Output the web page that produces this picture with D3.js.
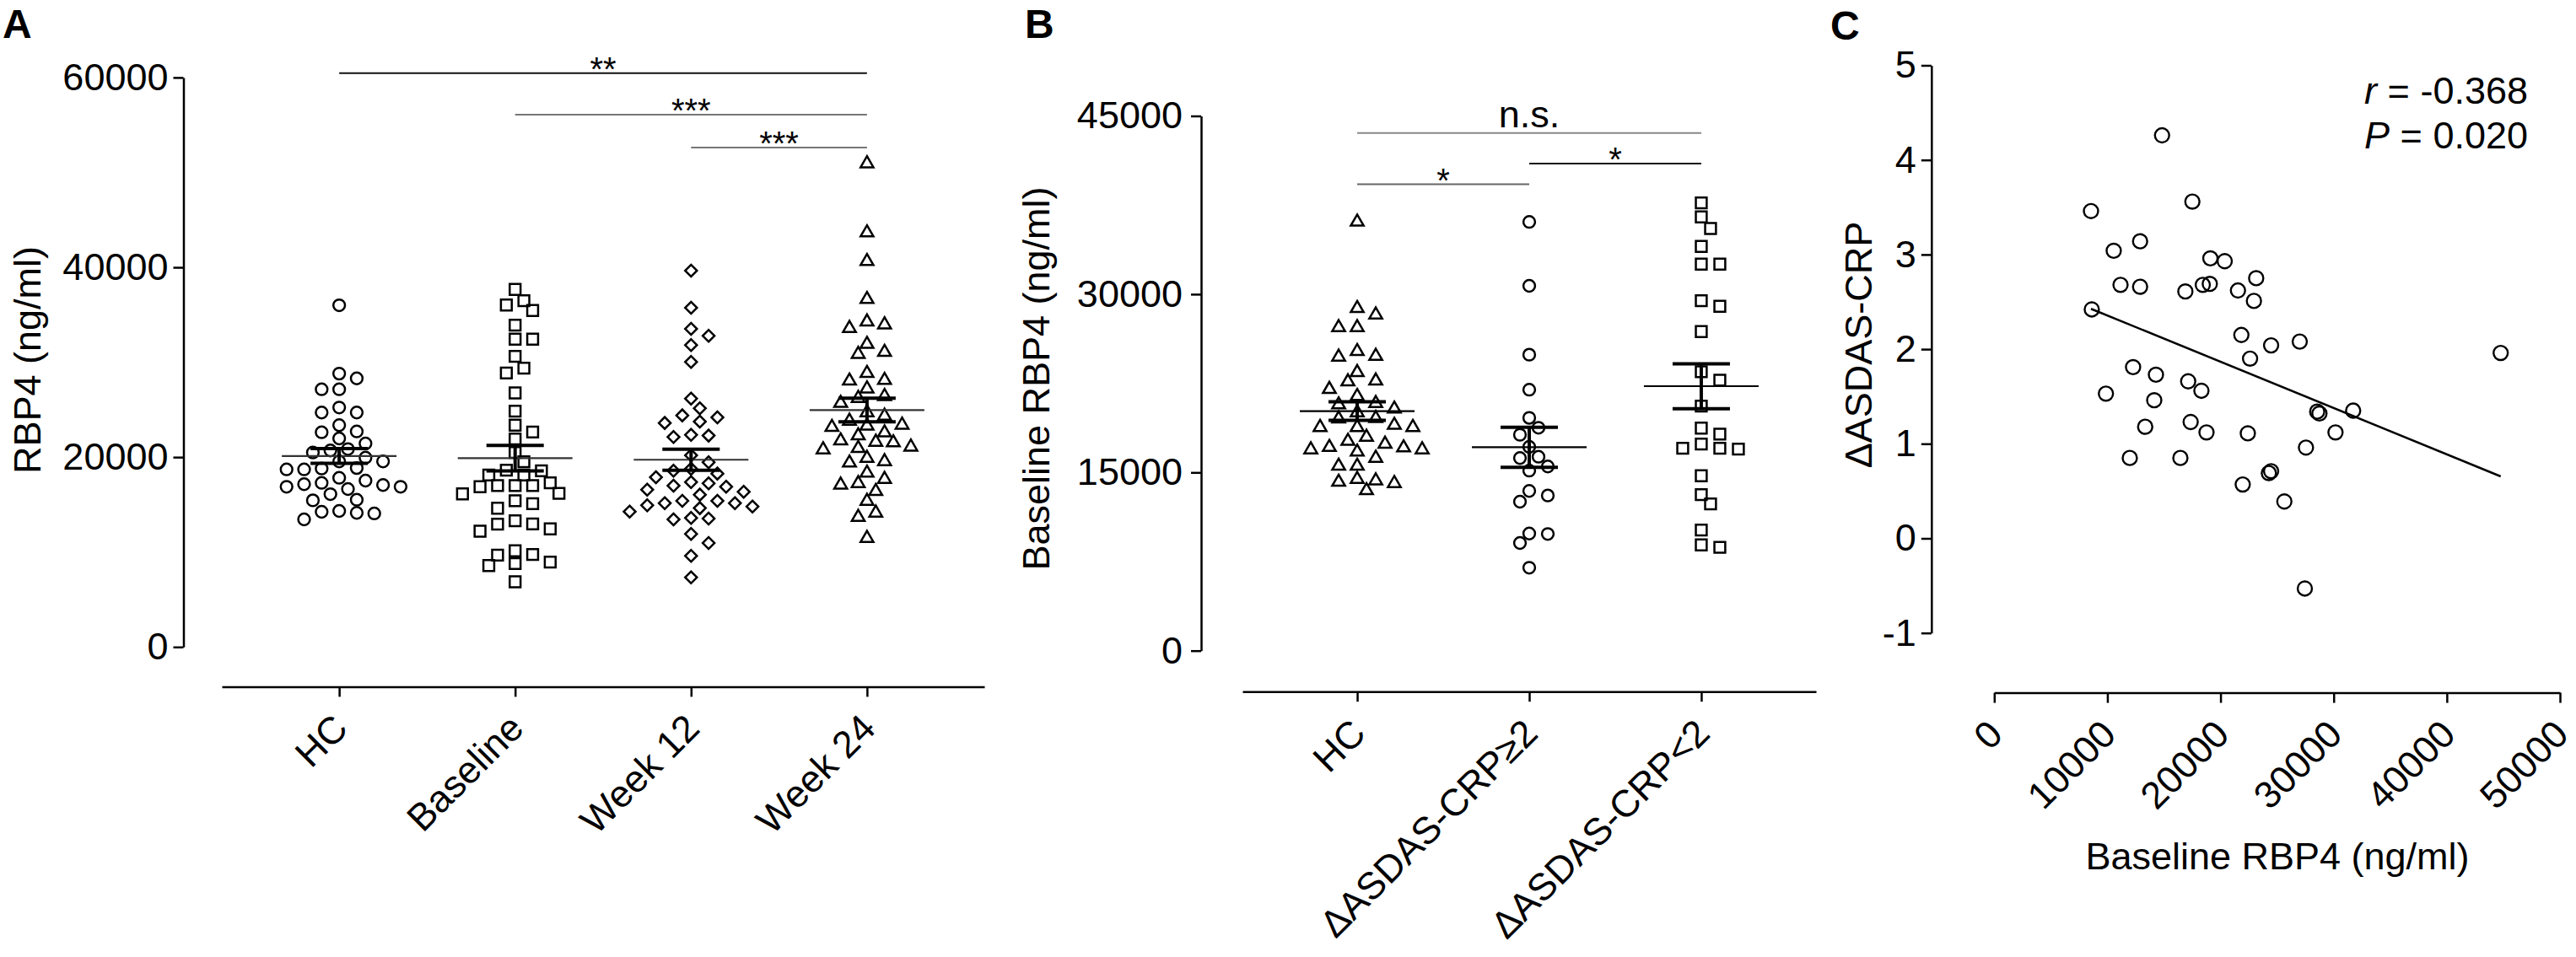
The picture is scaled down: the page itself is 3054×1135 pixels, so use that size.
<!DOCTYPE html>
<html>
<head>
<meta charset="utf-8">
<script src="https://cdn.jsdelivr.net/npm/d3@7"></script>
<style>
  body { margin: 0; background: #fff; }
  svg { display: block; }
</style>
</head>
<body>
<script>
// ── Data ──────────────────────────────────────────────────────────────────
// Panel A: RBP4 (ng/ml) per group
const groupsA = ["HC", "Baseline", "Week 12", "Week 24"];
const hcA = [36000, 28800, 28300, 27150, 27150, 25230, 24700, 24700, 23370, 22620,
  22710, 21970, 21440, 20850, 20490, 20700, 19950, 19550, 19550, 18800, 18710, 18710,
  18850, 17820, 17530, 17150, 16880, 16640, 16880, 17060, 17290, 16100, 15510, 15450,
  14330, 14130, 13440, 14070, 14240];
const baselineA = [37670, 36480, 36030, 35450, 33900, 32430, 32430, 30620, 29370, 28870,
  26770, 24840, 23370, 22650, 21910, 20490, 19510, 18620, 18560, 18120, 18120, 17290,
  17000, 16880, 17000, 17000, 16130, 16190, 15400, 15100, 14620, 13290, 12940, 12200,
  12440, 12970, 9740, 8940, 8790, 9680, 10130, 8580, 6870];
const week12A = [39650, 35740, 33520, 32780, 31800, 30030, 26170, 25140, 24190, 24400,
  23600, 23750, 22270, 22120, 22350, 20190, 19460, 18770, 18570, 18270, 17880, 17230,
  16880, 16350, 16580, 17000, 17380, 16050, 15400, 15160, 14920, 14630, 14270, 14800,
  15160, 15400, 13530, 13440, 13590, 11900, 10960, 9600, 7330];
const week24A = [50930, 43650, 40630, 36630, 33960, 33580, 34260, 31900, 30850, 31060,
  28840, 28100, 28040, 27210, 26410, 26210, 25680, 24700, 24340, 23810, 23300, 23150,
  23390, 22570, 22270, 21590, 21080, 20790, 20930, 21530, 21730, 19900, 19400, 19540,
  18330, 17680, 17230, 17080, 16400, 15370, 14130, 13680, 11460];
const ticksA = [0, 20000, 40000, 60000];
const sigA = [
  { from: "HC", to: "Week 24", level: 60450, label: "**" },
  { from: "Baseline", to: "Week 24", level: 56080, label: "***" },
  { from: "Week 12", to: "Week 24", level: 52620, label: "***" },
];

// Panel B: baseline RBP4 by response group
const groupsB = ["HC", "ΔASDAS-CRP≥2", "ΔASDAS-CRP<2"];
const hcB = [36080, 28810, 28270, 27200, 27200, 25190, 24720, 24790, 23420, 22710,
  22640, 22000, 21410, 20820, 20700, 20350, 20040, 19560, 19520, 18980, 18800, 18800,
  18800, 17980, 17630, 17390, 17080, 17120, 16920, 16730, 16920, 16210, 15540, 15540,
  14430, 14190, 13480, 14080, 14310];
const respondersB = [36080, 30700, 24910, 21960, 19590, 18760, 18170, 17150, 16320,
  16210, 15500, 15150, 13440, 12540, 13060, 9820, 9060, 9860, 6980];
const nonRespondersB = [37680, 36500, 35530, 34020, 32530, 32530, 29450, 28980, 26850,
  23470, 22760, 20580, 18730, 18220, 17030, 16960, 17030, 17390, 14720, 13130, 12350,
  10150, 8700, 8900];
const ticksB = [0, 15000, 30000, 45000];
const sigB = [
  { from: "HC", to: "ΔASDAS-CRP<2", level: 43560, label: "n.s." },
  { from: "HC", to: "ΔASDAS-CRP≥2", level: 39250, label: "*" },
  { from: "ΔASDAS-CRP≥2", to: "ΔASDAS-CRP<2", level: 40990, label: "*" },
];

// Panel C: baseline RBP4 vs ΔASDAS-CRP
const rbp4C = [14830, 17510, 8550, 12890, 10560, 19100, 20370, 23150, 11160, 12890,
  16890, 18430, 19050, 21540, 22950, 8620, 21840, 24470, 22610, 12270, 14290, 17140,
  18310, 9870, 14140, 13340, 17360, 18760, 22410, 11980, 16450, 24270, 24470, 21960,
  25640, 27000, 44760, 28540, 28740, 31720, 30160, 27550, 27450];
const deltaC = [4.26, 3.56, 3.46, 3.14, 3.04, 2.96, 2.93, 2.75, 2.68, 2.66,
  2.61, 2.68, 2.69, 2.62, 2.51, 2.42, 2.15, 2.04, 1.90, 1.81, 1.73, 1.66,
  1.56, 1.53, 1.46, 1.18, 1.23, 1.12, 1.11, 0.85, 0.85, 0.69, 0.71, 0.57,
  0.39, 2.08, 1.96, 1.34, 1.32, 1.35, 1.12, 0.96, -0.53];
const fitSlope = -4.892e-5;
const fitIntercept = 2.845;
const ticksCx = [0, 10000, 20000, 30000, 40000, 50000];
const ticksCy = [-1, 0, 1, 2, 3, 4, 5];

// ── Setup ─────────────────────────────────────────────────────────────────
const FONT = "Arial, 'Liberation Sans', Helvetica, sans-serif";
const svg = d3.select("body").append("svg")
  .attr("width", 3054).attr("height", 1135)
  .style("font-family", FONT);
svg.append("rect").attr("width", 3054).attr("height", 1135).attr("fill", "#fff");

const SYMBOLS = {
  circle: { type: d3.symbolCircle, size: 150, rotate: 0 },
  square: { type: d3.symbolSquare, size: 165, rotate: 0 },
  diamond: { type: d3.symbolSquare, size: 98, rotate: 45 },
  triangle: { type: d3.symbolTriangle, size: 100, rotate: 0 },
  bigCircle: { type: d3.symbolCircle, size: 225, rotate: 0 },
};

function symbolPath(name) {
  const s = SYMBOLS[name];
  return d3.symbol().type(s.type).size(s.size)();
}

// greedy beeswarm: nearest free slot on a half-step grid
function swarm(values, y, step, dmin) {
  const pts = values.map((v) => ({ v, y: y(v), dx: 0 })).sort((a, b) => a.y - b.y);
  const placed = [];
  pts.forEach((p) => {
    for (let k = 0; k < 40; k++) {
      const offs = k === 0 ? [0] : [k * step, -k * step];
      const hit = offs.find((o) =>
        placed.every((q) => (q.dx - o) ** 2 + (q.y - p.y) ** 2 >= dmin * dmin));
      if (hit !== undefined) { p.dx = hit; placed.push(p); return; }
    }
  });
  return placed;
}

function styleAxis(g) {
  g.select(".domain").attr("stroke", "#000").attr("stroke-width", 2.5);
  g.selectAll(".tick line").attr("stroke", "#000").attr("stroke-width", 2.5);
  g.selectAll(".tick text").attr("font-size", 45).attr("fill", "#000")
    .style("font-family", FONT);
}

function rotateLabels(g) {
  g.selectAll(".tick text")
    .attr("x", 0).attr("y", 0).attr("dy", null)
    .attr("text-anchor", "end")
    .attr("transform", "translate(12,52) rotate(-45)");
}

function panelLabel(text, x, y) {
  svg.append("text").attr("x", x).attr("y", y)
    .attr("font-size", 48).attr("font-weight", "bold").text(text);
}

function yTitle(text, x, y) {
  svg.append("text").attr("transform", `translate(${x},${y}) rotate(-90)`)
    .attr("text-anchor", "middle").attr("font-size", 45).text(text);
}

// ── Dot plot panel (A, B) ─────────────────────────────────────────────────
function dotPanel(cfg) {
  const x = d3.scalePoint().domain(cfg.groups).range(cfg.xRange).padding(0.667);
  const y = d3.scaleLinear().domain(cfg.yDomain).range(cfg.yRange);
  const g = svg.append("g");

  g.append("g").attr("transform", `translate(${cfg.yAxisX},0)`)
    .call(d3.axisLeft(y).tickValues(cfg.ticks).tickSize(12).tickPadding(cfg.tickPad)
      .tickSizeOuter(0).tickFormat((d) => String(d)))
    .call(styleAxis);

  g.append("g").attr("transform", `translate(0,${cfg.xAxisY})`)
    .call(d3.axisBottom(x).tickSize(12).tickSizeOuter(0))
    .call(styleAxis).call(rotateLabels);

  cfg.series.forEach((vals, i) => {
    const cx = x(cfg.groups[i]);
    const shape = cfg.shapes[i];
    const pts = swarm(vals, y, cfg.step, cfg.dmin);
    g.append("g").selectAll("path").data(pts).join("path")
      .attr("d", symbolPath(shape))
      .attr("transform", (d) =>
        `translate(${cx + d.dx},${d.y}) rotate(${SYMBOLS[shape].rotate})`)
      .attr("fill", "none").attr("stroke", "#000").attr("stroke-width", 2.5);

    const m = d3.mean(vals);
    const sem = d3.deviation(vals) / Math.sqrt(vals.length);
    g.append("line").attr("x1", cx - 68).attr("x2", cx + 68)
      .attr("y1", y(m)).attr("y2", y(m))
      .attr("stroke", cfg.meanColor).attr("stroke-width", 2.2);
    [m - sem, m + sem].forEach((v) => {
      g.append("line").attr("x1", cx - 34).attr("x2", cx + 34)
        .attr("y1", y(v)).attr("y2", y(v))
        .attr("stroke", "#000").attr("stroke-width", 4);
    });
    g.append("line").attr("x1", cx).attr("x2", cx)
      .attr("y1", y(m - sem)).attr("y2", y(m + sem))
      .attr("stroke", "#000").attr("stroke-width", 4);
  });

  cfg.sig.forEach((s, i) => {
    const x1 = x(s.from), x2 = x(s.to), ly = y(s.level);
    g.append("line").attr("x1", x1).attr("x2", x2).attr("y1", ly).attr("y2", ly)
      .attr("stroke", cfg.sigColors[i]).attr("stroke-width", 2);
    const star = s.label.includes("*");
    g.append("text").attr("x", (x1 + x2) / 2)
      .attr("y", star ? ly + 9 : ly - 7)
      .attr("text-anchor", "middle")
      .attr("font-size", star ? 40 : 45)
      .text(s.label);
  });
}

// ── Panel A ──
panelLabel("A", 3, 45);
yTitle("RBP4 (ng/ml)", 48, 427);
dotPanel({
  groups: groupsA,
  series: [hcA, baselineA, week12A, week24A],
  shapes: ["circle", "square", "diamond", "triangle"],
  xRange: [263, 1167], yRange: [767.3, 91.9], yDomain: [0, 60000],
  ticks: ticksA, yAxisX: 217.5, xAxisY: 814.4, tickPad: 6,
  step: 10.4, dmin: 15, meanColor: "#333",
  sig: sigA, sigColors: ["#111", "#777", "#777"],
});

// ── Panel B ──
panelLabel("B", 1215, 45);
yTitle("Baseline RBP4 (ng/ml)", 1244, 449);
dotPanel({
  groups: groupsB,
  series: [hcB, respondersB, nonRespondersB],
  shapes: ["triangle", "circle", "square"],
  xRange: [1473, 2153], yRange: [771.7, 137.5], yDomain: [0, 45000],
  ticks: ticksB, yAxisX: 1424, xAxisY: 820.2, tickPad: 10,
  step: 11, dmin: 15.5, meanColor: "#000",
  sig: sigB, sigColors: ["#888", "#666", "#111"],
});

// ── Panel C: scatter with regression line ─────────────────────────────────
panelLabel("C", 2170, 47);
yTitle("ΔASDAS-CRP", 2219, 409);

const xC = d3.scaleLinear().domain([0, 50000]).range([2364.3, 3035]);
const yC = d3.scaleLinear().domain([-1, 5]).range([750.7, 77.5]);
const gC = svg.append("g");

gC.append("g").attr("transform", "translate(2289.8,0)")
  .call(d3.axisLeft(yC).tickValues(ticksCy).tickSize(12).tickPadding(6)
    .tickSizeOuter(0).tickFormat((d) => String(d)))
  .call(styleAxis);

gC.append("g").attr("transform", "translate(0,821.6)")
  .call(d3.axisBottom(xC).tickValues(ticksCx).tickSize(12).tickSizeOuter(0)
    .tickFormat((d) => String(d)))
  .call(styleAxis).call(rotateLabels);

gC.append("text").attr("x", 2700).attr("y", 1031)
  .attr("text-anchor", "middle").attr("font-size", 45)
  .text("Baseline RBP4 (ng/ml)");

const pairsC = rbp4C.map((v, i) => [v, deltaC[i]]);
gC.append("g").selectAll("path").data(pairsC).join("path")
  .attr("d", symbolPath("bigCircle"))
  .attr("transform", (d) => `translate(${xC(d[0])},${yC(d[1])})`)
  .attr("fill", "none").attr("stroke", "#000").attr("stroke-width", 2.4);

const [xMin, xMax] = d3.extent(rbp4C);
gC.append("line")
  .attr("x1", xC(xMin)).attr("y1", yC(fitIntercept + fitSlope * xMin))
  .attr("x2", xC(xMax)).attr("y2", yC(fitIntercept + fitSlope * xMax))
  .attr("stroke", "#000").attr("stroke-width", 2.5);

const stat1 = gC.append("text").attr("x", 2997).attr("y", 123)
  .attr("text-anchor", "end").attr("font-size", 45);
stat1.append("tspan").attr("font-style", "italic").text("r");
stat1.append("tspan").text(" = -0.368");
const stat2 = gC.append("text").attr("x", 2997).attr("y", 176)
  .attr("text-anchor", "end").attr("font-size", 45);
stat2.append("tspan").attr("font-style", "italic").text("P");
stat2.append("tspan").text(" = 0.020");
</script>
</body>
</html>
